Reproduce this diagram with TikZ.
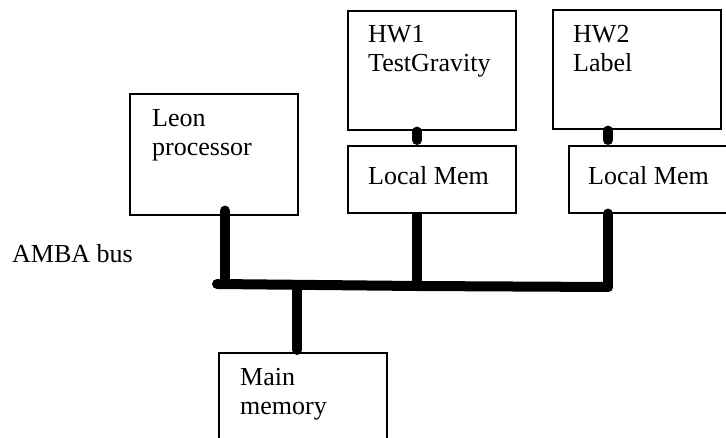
\documentclass[tikz,border=0pt]{standalone}
\usepackage{fontspec}
\setmainfont{Liberation Serif}
\usetikzlibrary{calc}
\begin{document}
\begin{tikzpicture}[x=1pt,y=-1pt,
  box/.style={draw, line width=1.6pt, minimum width=168pt, anchor=north west, inner sep=0pt},
  txt/.style={font=\fontsize{26}{29}\selectfont, anchor=base west, inner sep=0pt},
  bus/.style={line width=10pt, line cap=round}]
\useasboundingbox (0,0) rectangle (726,438);
\clip (0,0) rectangle (726,438);
% boxes
\node[box, minimum height=121pt] (leon) at (129,93) {};
\node[box, minimum height=119pt] (hw1) at (347,10) {};
\node[box, minimum height=67pt] (lm1) at (347,145) {};
\node[box, minimum height=119pt] (hw2) at (552,9) {};
\node[box, minimum height=67pt] (lm2) at (568,145) {};
\node[box, minimum height=120pt] (mainm) at (218,352) {};
% texts
\node[txt] (leonA) at (152,127) {Leon};
\node[txt] (leonB) at (152,156) {processor};
\node[txt] (hw1A) at (368,43) {HW1};
\node[txt] (hw1B) at (368,72) {TestGravity};
\node[txt] (lm1t) at (368,185) {Local Mem};
\node[txt] (hw2A) at (573,43) {HW2};
\node[txt] (hw2B) at (573,72) {Label};
\node[txt] (lm2t) at (588,185) {Local Mem};
\node[txt] (mainA) at (240,385) {Main};
\node[txt] (mainB) at (240,414) {memory};
\node[txt] (amba) at (12,263) {AMBA bus};
% bus coordinates
\coordinate (jl) at (225,284);
\coordinate (jm) at (297,285);
\coordinate (j1) at (417,286);
\coordinate (j2) at (608,287);
% connectors
\draw[bus] ($(leon.south west)+(96,-5)$) -- (jl);
\draw[bus] ($(hw1.south west)+(70,1)$) -- ($(lm1.north west)+(70,-5)$);
\draw[bus, line cap=butt] (lm1.south west -| j1) -- (j1);
\draw[bus] ($(hw2.south west)+(56,1)$) -- ($(lm2.north west)+(40,-5)$);
\draw[bus] (lm2.south west -| j2) -- (j2);
\draw[bus] ($(jl)+(-8,0)$) -- (j1) -- (j2);
\draw[bus] (jm) -- ($(mainm.north west)+(79,-2)$);
\end{tikzpicture}
\end{document}
